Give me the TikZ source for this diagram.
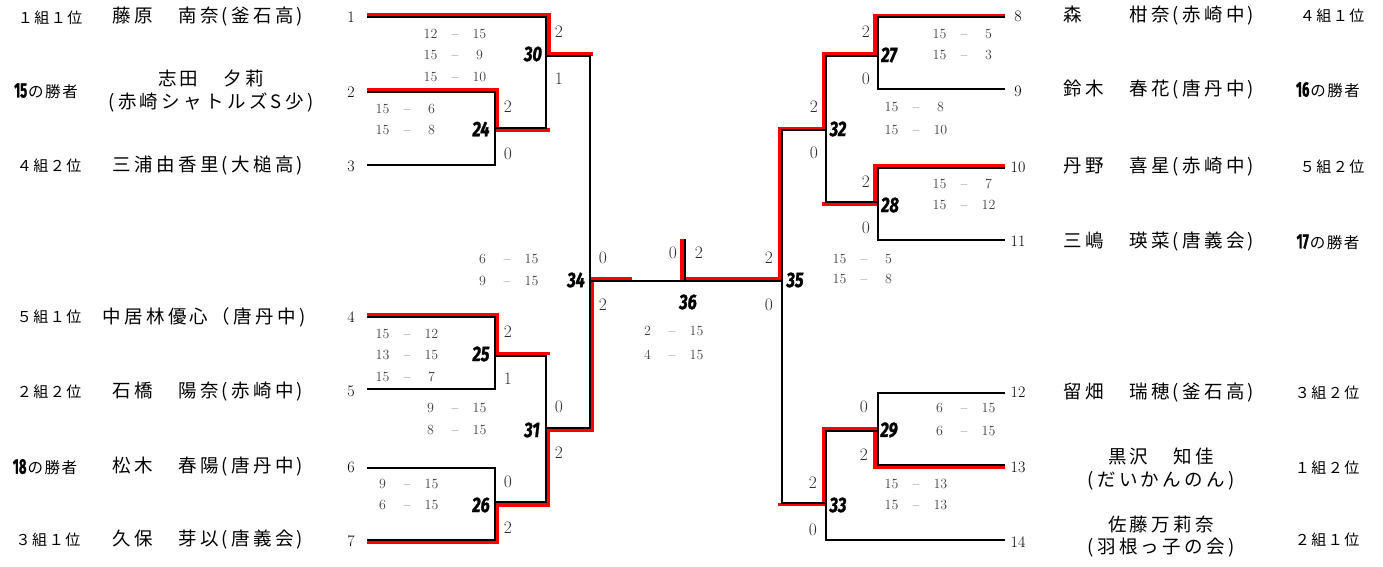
\documentclass[tikz,border=0pt]{standalone}
\usepackage{fontspec}
\usepackage{graphicx}
\newfontfamily\jp{Noto Sans CJK JP}[LetterSpace=18]
\newfontfamily\jpg{Noto Sans CJK JP}[LetterSpace=10]
\newfontfamily\mf{Fira Sans}[BoldItalicFeatures={FakeBold=1.5}, BoldFeatures={FakeBold=1.5}]
\definecolor{wred}{RGB}{255,0,0}
\definecolor{sgray}{RGB}{65,65,65}
\definecolor{ggray}{RGB}{45,45,45}
\newcommand\ptsc[2]{\makebox[24.5pt]{#1}\makebox[24.5pt]{--}\makebox[24.5pt]{#2}}
\newcommand\mnum[1]{{\mf\bfseries\itshape\fontsize{21}{21}\selectfont\scalebox{0.78}[1]{#1}}}
\newcommand\winof[1]{{\mf\bfseries\fontsize{21}{21}\selectfont\scalebox{0.62}[1]{#1}}\hspace{1pt}{\fontsize{15.5}{15.5}\selectfont の勝者}}
\begin{document}
\begin{tikzpicture}[x=1pt,y=-1pt,
  blk/.style={line width=2pt, black},
  winpath/.style={line width=3.5pt, wred},
  seed/.style={font=\fontsize{16}{16}\selectfont, inner sep=0pt},
  gsc/.style={font=\fontsize{17.5}{17.5}\selectfont, text=ggray, inner sep=0pt},
  pts/.style={font=\fontsize{14}{14}\selectfont, text=sgray, inner sep=0pt},
  mno/.style={inner sep=0pt},
  nm/.style={font=\jp\fontsize{18.5}{22.5}\selectfont, inner sep=0pt, align=center},
  grp/.style={font=\jpg\fontsize{15}{15}\selectfont, inner sep=0pt}]
\useasboundingbox (0,0) rectangle (1383,567);

% ---- line ends and junctions
\coordinate (e1) at (367,17.5);
\coordinate (e2) at (367,92);
\coordinate (e3) at (367,165);
\coordinate (e4) at (367,316.7);
\coordinate (e5) at (367,389);
\coordinate (e6) at (367,467.7);
\coordinate (e7) at (367,539.5);
\coordinate (e8) at (1005,17);
\coordinate (e9) at (1005,89.5);
\coordinate (e10) at (1005,168);
\coordinate (e11) at (1005,239.5);
\coordinate (e12) at (1005,393);
\coordinate (e13) at (1005,465);
\coordinate (e14) at (1005,539.5);
\coordinate (j24) at (495,128);
\coordinate (j25) at (495,356);
\coordinate (j26) at (495,502);
\coordinate (j30) at (546,56);
\coordinate (j31) at (546,428);
\coordinate (j34) at (590,281);
\coordinate (j27) at (877.7,56);
\coordinate (j28) at (877.7,202);
\coordinate (j29) at (877.7,431);
\coordinate (j32) at (826,130.5);
\coordinate (j33) at (826.3,503);
\coordinate (j35) at (782,281);
\coordinate (j36) at (684.5,281);
\coordinate (t36) at (684.5,239);

% ---- winner highlights (red)
\draw[winpath] (367,15) -- (549,15) -- (549,54) -- (593,54);
\draw[winpath] (367,90) -- (497,90) -- (497,130) -- (550,130);
\draw[winpath] (367,315) -- (497.5,315) -- (497.5,353.5) -- (550,353.5);
\draw[winpath] (367,542) -- (497,542) -- (497,505) -- (548.5,505) -- (548.5,430) -- (592.5,430) -- (592.5,278.5) -- (632,278.5);
\draw[winpath] (1005,15.3) -- (875,15.3) -- (875,53.3) -- (824,53.3) -- (824,128.7) -- (780,128.7) -- (780,278.3) -- (682,278.3) -- (682,239);
\draw[winpath] (1005,165.3) -- (875,165.3) -- (875,204) -- (822,204);
\draw[winpath] (1005,467.3) -- (875,467.3) -- (875,429) -- (824,429) -- (824,504.3) -- (778,504.3);

% ---- bracket (black)
\draw[blk] (e2) -| (j24) |- (e3);
\draw[blk] (e1) -| (j30) |- (j24);
\draw[blk] (j30) -| (j34) |- (j31);
\draw[blk] (e4) -| (j25) |- (e5);
\draw[blk] (e6) -| (j26) |- (e7);
\draw[blk] (j25) -| (j31) |- (j26);
\draw[blk] (j34) -- (j35);
\draw[blk] (t36) -- (j36);
\draw[blk] (e8) -| (j27) |- (e9);
\draw[blk] (e10) -| (j28) |- (e11);
\draw[blk] (j27) -| (j32) |- (j28);
\draw[blk] (e12) -| (j29) |- (e13);
\draw[blk] (j29) -| (j33) |- (e14);
\draw[blk] (j32) -| (j35) |- (j33);

% ---- seed numbers
\node[seed] (n1) at (351,17) {1};
\node[seed] (n2) at (351,92) {2};
\node[seed] (n3) at (351,166) {3};
\node[seed] (n4) at (351,317) {4};
\node[seed] (n5) at (351,391) {5};
\node[seed] (n6) at (351,467) {6};
\node[seed] (n7) at (351,541) {7};
\node[seed] (n8) at (1018,16) {8};
\node[seed] (n9) at (1018,91) {9};
\node[seed] (n10) at (1018,167) {10};
\node[seed] (n11) at (1018,241) {11};
\node[seed] (n12) at (1018,392) {12};
\node[seed] (n13) at (1018,467) {13};
\node[seed] (n14) at (1018,542) {14};

% ---- match numbers
\node[mno] (m30) at (533,54) {\mnum{30}};
\node[mno] (m24) at (481,129) {\mnum{24}};
\node[mno] (m25) at (481,354) {\mnum{25}};
\node[mno] (m31) at (532,430) {\mnum{31}};
\node[mno] (m26) at (481,505) {\mnum{26}};
\node[mno] (m34) at (576,280) {\mnum{34}};
\node[mno] (m36) at (688,302) {\mnum{36}};
\node[mno] (m35) at (795,280) {\mnum{35}};
\node[mno] (m27) at (889,55) {\mnum{27}};
\node[mno] (m32) at (838,129) {\mnum{32}};
\node[mno] (m28) at (890,205) {\mnum{28}};
\node[mno] (m29) at (889,430) {\mnum{29}};
\node[mno] (m33) at (838,505) {\mnum{33}};

% ---- game scores
\node[gsc] (g30a) at (559,32) {2};  \node[gsc] (g30b) at (559,79) {1};
\node[gsc] (g24a) at (508,107) {2}; \node[gsc] (g24b) at (508,154) {0};
\node[gsc] (g25a) at (508,332) {2}; \node[gsc] (g25b) at (508,379) {1};
\node[gsc] (g31a) at (559,407) {0}; \node[gsc] (g31b) at (559,453) {2};
\node[gsc] (g26a) at (508,482) {0}; \node[gsc] (g26b) at (508,528) {2};
\node[gsc] (g34a) at (603,258) {0}; \node[gsc] (g34b) at (603,305) {2};
\node[gsc] (g36a) at (673,253) {0}; \node[gsc] (g36b) at (699,253) {2};
\node[gsc] (g35a) at (769,258) {2}; \node[gsc] (g35b) at (769,305) {0};
\node[gsc] (g27a) at (866,32) {2};  \node[gsc] (g27b) at (866,79) {0};
\node[gsc] (g32a) at (814,107) {2}; \node[gsc] (g32b) at (814,153) {0};
\node[gsc] (g28a) at (866,182) {2}; \node[gsc] (g28b) at (866,228) {0};
\node[gsc] (g29a) at (864,407) {0}; \node[gsc] (g29b) at (864,455) {2};
\node[gsc] (g33a) at (813,483) {2}; \node[gsc] (g33b) at (813,530) {0};

% ---- point scores
\node[pts] (p30a) at (455,34) {\ptsc{12}{15}};
\node[pts] (p30b) at (455,55) {\ptsc{15}{9}};
\node[pts] (p30c) at (455,77) {\ptsc{15}{10}};
\node[pts] (p24a) at (407,109) {\ptsc{15}{6}};
\node[pts] (p24b) at (407,130) {\ptsc{15}{8}};
\node[pts] (p25a) at (407,334) {\ptsc{15}{12}};
\node[pts] (p25b) at (407,355) {\ptsc{13}{15}};
\node[pts] (p25c) at (407,377) {\ptsc{15}{7}};
\node[pts] (p31a) at (455,408) {\ptsc{9}{15}};
\node[pts] (p31b) at (455,430) {\ptsc{8}{15}};
\node[pts] (p26a) at (407,484) {\ptsc{9}{15}};
\node[pts] (p26b) at (407,505) {\ptsc{6}{15}};
\node[pts] (p34a) at (507,259) {\ptsc{6}{15}};
\node[pts] (p34b) at (507,281) {\ptsc{9}{15}};
\node[pts] (p36a) at (672,331) {\ptsc{2}{15}};
\node[pts] (p36b) at (672,355) {\ptsc{4}{15}};
\node[pts] (p35a) at (864,259) {\ptsc{15}{5}};
\node[pts] (p35b) at (864,279) {\ptsc{15}{8}};
\node[pts] (p27a) at (964,34) {\ptsc{15}{5}};
\node[pts] (p27b) at (964,55) {\ptsc{15}{3}};
\node[pts] (p32a) at (916,107) {\ptsc{15}{8}};
\node[pts] (p32b) at (916,130) {\ptsc{15}{10}};
\node[pts] (p28a) at (964,184) {\ptsc{15}{7}};
\node[pts] (p28b) at (964,205) {\ptsc{15}{12}};
\node[pts] (p29a) at (964,408) {\ptsc{6}{15}};
\node[pts] (p29b) at (964,431) {\ptsc{6}{15}};
\node[pts] (p33a) at (916,484) {\ptsc{15}{13}};
\node[pts] (p33b) at (916,505) {\ptsc{15}{13}};

% ---- player names
\node[nm] (pl1) at (208,17) {藤原　南奈(釜石高)};
\node[nm] (pl2) at (211,91) {志田　夕莉\\(赤崎シャトルズS少)};
\node[nm] (pl3) at (208,166) {三浦由香里(大槌高)};
\node[nm] (pl4) at (204,317) {中居林優心（唐丹中)};
\node[nm] (pl5) at (208,392) {石橋　陽奈(赤崎中)};
\node[nm] (pl6) at (208,467) {松木　春陽(唐丹中)};
\node[nm] (pl7) at (208,540) {久保　芽以(唐義会)};
\node[nm] (pl8) at (1159,16) {森　　柑奈(赤崎中)};
\node[nm] (pl9) at (1159,90) {鈴木　春花(唐丹中)};
\node[nm] (pl10) at (1159,167) {丹野　喜星(赤崎中)};
\node[nm] (pl11) at (1159,242) {三嶋　瑛菜(唐義会)};
\node[nm] (pl12) at (1159,393) {留畑　瑞穂(釜石高)};
\node[nm] (pl13) at (1161,469) {黒沢　知佳\\(だいかんのん)};
\node[nm] (pl14) at (1161,536.5) {佐藤万莉奈\\(羽根っ子の会)};

% ---- qualification labels
\node[grp] (q1) at (50,18) {１組１位};
\node[grp] (q2) at (46,91) {\winof{15}};
\node[grp] (q3) at (49,166) {４組２位};
\node[grp] (q4) at (49,317) {５組１位};
\node[grp] (q5) at (49,392) {２組２位};
\node[grp] (q6) at (45,467) {\winof{18}};
\node[grp] (q7) at (48,540) {３組１位};
\node[grp] (q8) at (1332,16) {４組１位};
\node[grp] (q9) at (1328,90) {\winof{16}};
\node[grp] (q10) at (1332,167) {５組２位};
\node[grp] (q11) at (1328,242) {\winof{17}};
\node[grp] (q12) at (1327,393) {３組２位};
\node[grp] (q13) at (1327,468) {１組２位};
\node[grp] (q14) at (1327,540) {２組１位};
\end{tikzpicture}
\end{document}
